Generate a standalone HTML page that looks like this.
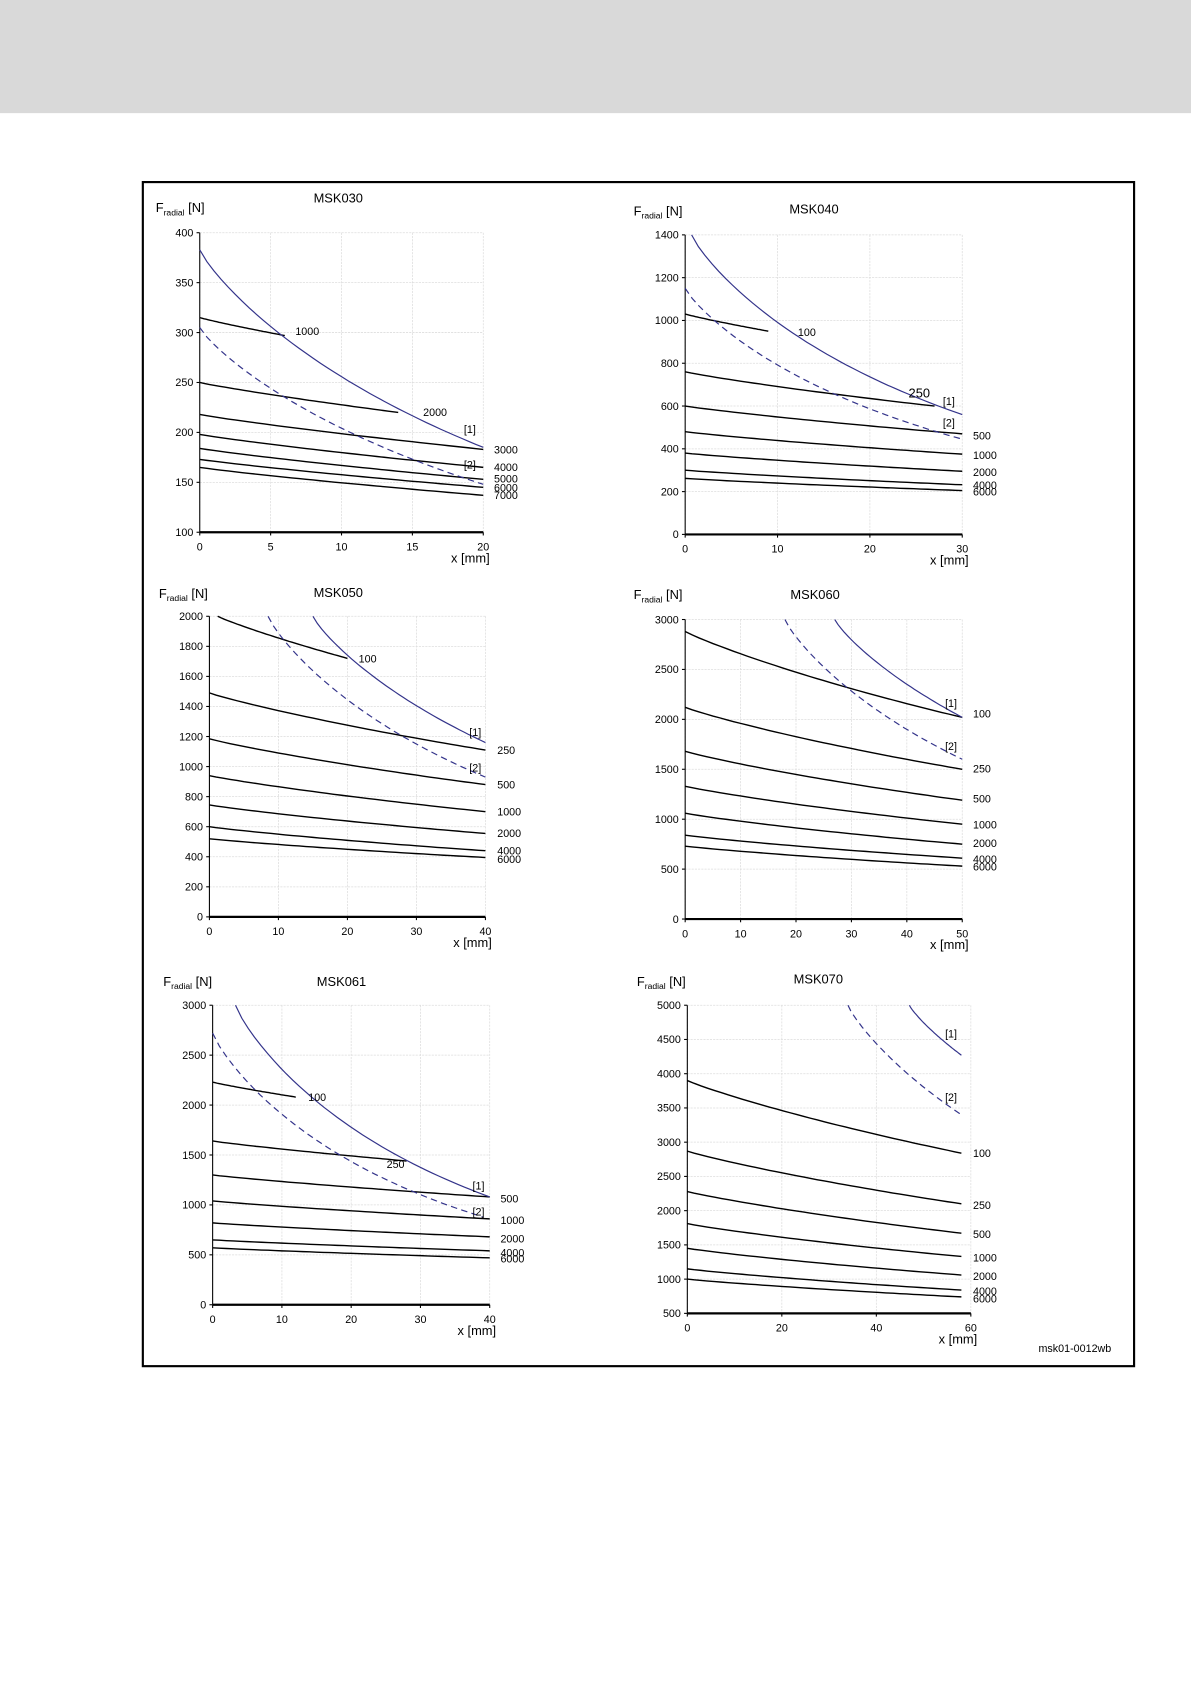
<!DOCTYPE html>
<html><head><meta charset="utf-8"><style>
html,body{margin:0;padding:0;background:#fff;}
svg{display:block;}
text{font-family:"Liberation Sans",sans-serif;fill:#000;}
</style></head><body>
<svg id="s" width="1191" height="1684" viewBox="0 0 1109 1563" preserveAspectRatio="none" xmlns="http://www.w3.org/2000/svg">
<rect x="0" y="0" width="1109" height="105" fill="#d9d9d9"/>
<rect x="133" y="169" width="923" height="1099" fill="none" stroke="#000" stroke-width="2"/>
<g id="g"></g>
<text x="967" y="1255" font-size="10">msk01-0012wb</text>
</svg>
<script>
var NS="http://www.w3.org/2000/svg",G=document.getElementById('g');
function el(t,a,txt){var e=document.createElementNS(NS,t);for(var k in a)e.setAttribute(k,a[k]);if(txt!==undefined)e.textContent=txt;G.appendChild(e);return e;}
var charts=[
{t:"MSK030",tx:292,ty:188,fx:145,fy:197,x0:186,x1:450,xm:20,xt:[0,5,10,15,20],y0:494,y1:216,ymin:100,ymax:400,yt:[100,150,200,250,300,350,400],
 L:[[0,315,6,297],[0,250,14,220],[0,218,20,183],[0,198,20,165],[0,184,20,153],[0,173,20,145],[0,165,20,137]],
 c1:[0,383,20,185],c2:[0,305,20,148],
 lab:[["1000",275,311],["2000",394,386],["[1]",432,402],["3000",460,421],["[2]",432,435],["4000",460,437],["5000",460,448],["6000",460,456],["7000",460,463]]},
{t:"MSK040",tx:735,ty:198,fx:590,fy:200,x0:638,x1:896,xm:30,xt:[0,10,20,30],y0:496,y1:218,ymin:0,ymax:1400,yt:[0,200,400,600,800,1000,1200,1400],
 L:[[0,1030,9,950],[0,760,27,600],[0,600,30,470],[0,480,30,375],[0,380,30,295],[0,300,30,232],[0,262,30,205]],
 c1:[0.7,1400,30,560],c2:[0,1150,30,445],
 lab:[["100",743,312],["250",846,369,12],["[1]",878,376],["[2]",878,396],["500",906,408],["1000",906,426],["2000",906,442],["4000",906,454],["6000",906,460]]},
{t:"MSK050",tx:292,ty:554,fx:148,fy:555,x0:195,x1:452,xm:40,xt:[0,10,20,30,40],y0:851,y1:572,ymin:0,ymax:2000,yt:[0,200,400,600,800,1000,1200,1400,1600,1800,2000],
 L:[[1.2,2000,20,1720],[0,1490,40,1110],[0,1185,40,880],[0,940,40,700],[0,745,40,555],[0,600,40,440],[0,520,40,395]],
 c1:[15,2000,40,1160],c2:[8.5,2000,40,930],
 lab:[["100",334,615],["[1]",437,683],["250",463,700],["[2]",437,716],["500",463,732],["1000",463,757],["2000",463,777],["4000",463,793],["6000",463,801]]},
{t:"MSK060",tx:736,ty:556,fx:590,fy:556,x0:638,x1:896,xm:50,xt:[0,10,20,30,40,50],y0:853,y1:575,ymin:0,ymax:3000,yt:[0,500,1000,1500,2000,2500,3000],
 L:[[0,2880,50,2020],[0,2120,50,1500],[0,1680,50,1190],[0,1330,50,950],[0,1060,50,750],[0,840,50,610],[0,730,50,530]],
 c1:[27,3000,50,2020],c2:[18,3000,50,1600],
 lab:[["[1]",880,656],["100",906,666],["[2]",880,696],["250",906,717],["500",906,745],["1000",906,769],["2000",906,786],["4000",906,801],["6000",906,808]]},
{t:"MSK061",tx:295,ty:915,fx:152,fy:915,x0:198,x1:456,xm:40,xt:[0,10,20,30,40],y0:1211,y1:933,ymin:0,ymax:3000,yt:[0,500,1000,1500,2000,2500,3000],
 L:[[0,2230,12,2080],[0,1640,28,1440],[0,1300,40,1080],[0,1040,40,860],[0,820,40,680],[0,650,40,540],[0,570,40,470]],
 c1:[3.3,3000,40,1080],c2:[0,2720,39,880],
 lab:[["100",287,1022],["250",360,1084],["[1]",440,1104],["500",466,1116],["[2]",440,1128],["1000",466,1136],["2000",466,1153],["4000",466,1166],["6000",466,1172]]},
{t:"MSK070",tx:739,ty:913,fx:593,fy:915,x0:640,x1:904,xm:60,xt:[0,20,40,60],y0:1219,y1:933,ymin:500,ymax:5000,yt:[500,1000,1500,2000,2500,3000,3500,4000,4500,5000],
 L:[[0,3900,58,2840],[0,2870,58,2100],[0,2280,58,1670],[0,1810,58,1330],[0,1450,58,1060],[0,1150,58,840],[0,1000,58,740]],
 c1:[47,5000,58,4270],c2:[34,5000,58,3400],
 lab:[["[1]",880,963],["[2]",880,1022],["100",906,1074],["250",906,1122],["500",906,1149],["1000",906,1171],["2000",906,1188],["4000",906,1202],["6000",906,1209]]}
];
charts.forEach(function(c){
 function X(v){return c.x0+(c.x1-c.x0)*v/c.xm;}
 function Y(v){return c.y0-(c.y0-c.y1)*(v-c.ymin)/(c.ymax-c.ymin);}
 c.yt.forEach(function(v){var y=Y(v);
  el('line',{x1:c.x0,x2:c.x1,y1:y,y2:y,stroke:'#ddd','stroke-width':0.7,'stroke-dasharray':'2,1'});
  el('line',{x1:c.x0-3,x2:c.x0,y1:y,y2:y,stroke:'#000','stroke-width':1});
  el('text',{x:c.x0-6,y:y+3.5,'font-size':10,'text-anchor':'end'},String(v));});
 c.xt.forEach(function(v){var x=X(v);
  el('line',{x1:x,x2:x,y1:c.y1,y2:c.y0,stroke:'#ddd','stroke-width':0.7,'stroke-dasharray':'2,1'});
  el('line',{x1:x,x2:x,y1:c.y0,y2:c.y0+3,stroke:'#000','stroke-width':1});
  el('text',{x:x,y:c.y0+17,'font-size':10,'text-anchor':'middle'},String(v));});
 el('line',{x1:c.x0,x2:c.x0,y1:c.y1,y2:c.y0,stroke:'#000','stroke-width':1});
 el('line',{x1:c.x0,x2:c.x1,y1:c.y0,y2:c.y0,stroke:'#000','stroke-width':2});
 el('text',{x:c.x1-30,y:c.y0+28,'font-size':12},'x [mm]');
 el('text',{x:c.tx,y:c.ty,'font-size':12},c.t);
 var f=el('text',{x:c.fx,y:c.fy,'font-size':12});
 f.innerHTML='F<tspan font-size="8" dy="3">radial</tspan><tspan dy="-3"> [N]</tspan>';
 function curve(p,k,st,w,dash){
  var a=p[0],b=p[1],cc=p[2],d=p[3],pts=[];
  for(var i=0;i<=40;i++){var t=i/40;var xv=a+(cc-a)*t;var yv=b*Math.pow(d/b,Math.pow(t,k));pts.push(X(xv).toFixed(1)+','+Y(yv).toFixed(1));}
  var o={points:pts.join(' '),fill:'none',stroke:st,'stroke-width':w};if(dash)o['stroke-dasharray']=dash;el('polyline',o);}
 c.L.forEach(function(p){curve(p,0.92,'#000',1.3);});
 curve(c.c1,0.85,'#33338a',1.1);
 curve(c.c2,0.85,'#33338a',1.1,'6,4');
 c.lab.forEach(function(l){el('text',{x:l[1],y:l[2],'font-size':l[3]||10},l[0]);});
});
</script>
</body></html>
